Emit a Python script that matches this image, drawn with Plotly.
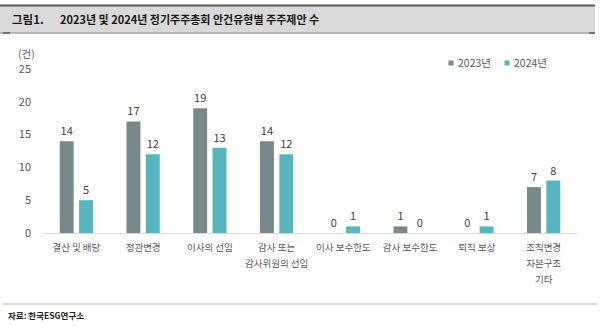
import plotly.graph_objects as go

categories = ["결산 및 배당", "정관변경", "이사의 선임", "감사 또는<br>감사위원의 선임",
              "이사 보수한도", "감사 보수한도", "퇴직 보상", "조직변경<br>자본구조<br>기타"]
values_2023 = [14, 17, 19, 14, 0, 1, 0, 7]
values_2024 = [5, 12, 13, 12, 1, 0, 1, 8]
series_names = ["2023년", "2024년"]
y_ticks = [0, 5, 10, 15, 20, 25]

W, H = 600, 327
ML, MR, MT, MB = 43, 23, 69, 94
PW, PH = W - ML - MR, H - MT - MB
FONT = "Noto Sans CJK KR"
C23, C24 = "#798989", "#58b5be"


def px(x):
    return (x - ML) / PW


def py(y):
    return (H - MB - y) / PH


def small_lines(label):
    return "<br>".join('<span style="font-size:9.5px">%s</span>' % part for part in label.split("<br>"))


tick_text = [small_lines(c) for c in categories]

fig = go.Figure()
for name, vals, col in [(series_names[0], values_2023, C23), (series_names[1], values_2024, C24)]:
    fig.add_trace(go.Bar(
        x=categories, y=vals, name=name, marker=dict(color=col, line=dict(width=0)),
        text=vals, textposition="outside", cliponaxis=False,
        textfont=dict(family=FONT, size=11, color="#404040"),
        showlegend=False,
    ))

shapes = [
    # title bar
    dict(type="rect", xref="paper", yref="paper", x0=px(0), x1=px(595), y0=py(33), y1=py(5.5),
         fillcolor="#d9d9d9", line=dict(width=0), layer="below"),
    dict(type="line", xref="paper", yref="paper", x0=px(0), x1=px(595), y0=py(5.5), y1=py(5.5),
         line=dict(color="#5a5a5a", width=2)),
    dict(type="line", xref="paper", yref="paper", x0=px(0), x1=px(595), y0=py(33), y1=py(33),
         line=dict(color="#a8a8a8", width=1.5)),
    dict(type="line", xref="paper", yref="paper", x0=px(3), x1=px(10), y0=py(33), y1=py(33),
         line=dict(color="#5a5a5a", width=1.5)),
    dict(type="line", xref="paper", yref="paper", x0=px(589), x1=px(595), y0=py(33), y1=py(33),
         line=dict(color="#5a5a5a", width=1.5)),
    # source separator
    dict(type="line", xref="paper", yref="paper", x0=px(3), x1=px(597), y0=py(304), y1=py(304),
         line=dict(color="#d0d0d0", width=1.5)),
    # legend swatches
    dict(type="rect", xref="paper", yref="paper", x0=px(448.5), x1=px(453.5), y0=py(65.5), y1=py(60.5),
         fillcolor=C23, line=dict(width=0)),
    dict(type="rect", xref="paper", yref="paper", x0=px(504.5), x1=px(509.5), y0=py(65.5), y1=py(60.5),
         fillcolor=C24, line=dict(width=0)),
]

ann = [
    dict(text="<b>그림1.</b>", x=px(10), y=py(19), xanchor="left", yanchor="middle",
         font=dict(family=FONT, size=11.5, color="#1a1a1a")),
    dict(text="<b>2023년 및 2024년 정기주주총회 안건유형별 주주제안 수</b>", x=px(58), y=py(19),
         xanchor="left", yanchor="middle", font=dict(family=FONT, size=11, color="#1a1a1a")),
    dict(text="(건)", x=px(26), y=py(54), xanchor="center", yanchor="middle",
         font=dict(family=FONT, size=10.5, color="#595959")),
    dict(text=series_names[0], x=px(456), y=py(63), xanchor="left", yanchor="middle",
         font=dict(family=FONT, size=10.5, color="#595959")),
    dict(text=series_names[1], x=px(512), y=py(63), xanchor="left", yanchor="middle",
         font=dict(family=FONT, size=10.5, color="#595959")),
    dict(text="<b>자료: 한국ESG연구소</b>", x=px(6), y=py(315), xanchor="left", yanchor="middle",
         font=dict(family=FONT, size=8.5, color="#262626")),
]
for a in ann:
    a.update(xref="paper", yref="paper", showarrow=False)

fig.update_layout(
    width=W, height=H, margin=dict(l=ML, r=MR, t=MT, b=MB, pad=0),
    paper_bgcolor="white", plot_bgcolor="white",
    barmode="group", bargap=0.42, bargroupgap=0.28,
    shapes=shapes, annotations=ann, showlegend=False,
    font=dict(family=FONT),
)
fig.update_xaxes(showline=True, linecolor="#d9d9d9", linewidth=1, showgrid=False, ticks="",
                 tickvals=categories, ticktext=tick_text,
                 tickfont=dict(family=FONT, size=12.3, color="#595959"), ticklabelstandoff=2)
fig.update_yaxes(range=[0, 25], tickvals=y_ticks, showgrid=False, zeroline=False, showline=False,
                 ticks="", tickfont=dict(family=FONT, size=11, color="#595959"), ticklabelstandoff=11)

fig.write_html("out.html")
